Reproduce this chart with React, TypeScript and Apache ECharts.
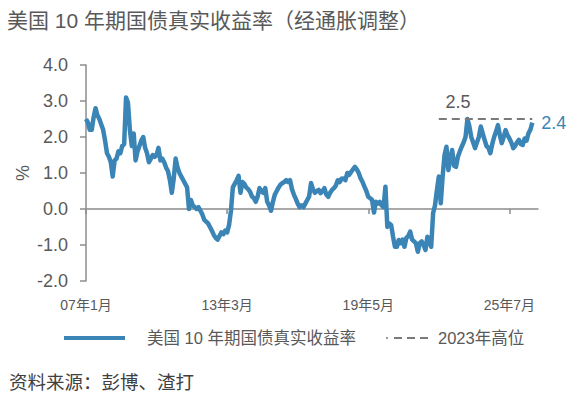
import React, { useEffect, useRef } from "react";
import * as echarts from "echarts";

const START_YEAR = 2007;
const MONTH_COUNT = 238;
const TICK_LABELS = ["07年1月", "13年3月", "19年5月", "25年7月"];
const Y_MIN = -2;
const Y_MAX = 4;
const Y_STEP = 1;

const TITLE = "美国 10 年期国债真实收益率（经通胀调整）";
const SERIES_NAME = "美国 10 年期国债真实收益率";
const HIGH_NAME = "2023年高位";
const SOURCE = "资料来源：彭博、渣打";
const Y_UNIT = "%";

const REAL_YIELD = [
  2.5, 2.4, 2.2, 2.2, 2.55, 2.8, 2.6, 2.5, 2.35, 2.2,
  1.9, 1.55, 1.45, 1.3, 0.9, 1.35, 1.4, 1.6, 1.55, 1.75,
  1.8, 3.1, 2.95, 2.2, 1.75, 2.1, 1.35, 1.6, 1.75, 1.9,
  2.0, 1.7, 1.55, 1.3, 1.4, 1.5, 1.45, 1.5, 1.7, 1.35,
  1.4, 1.3, 1.15, 1.05, 0.8, 0.45, 0.85, 1.4, 1.15, 1.0,
  0.9, 0.8, 0.7, 0.6, 0.0, 0.25, 0.1, 0.05, 0.0, 0.05,
  -0.05, -0.15, -0.3, -0.35, -0.4, -0.5, -0.6, -0.72, -0.8, -0.85,
  -0.75, -0.65, -0.7, -0.6, -0.65, -0.45, -0.05, 0.6, 0.7, 0.8,
  0.92, 0.45, 0.75, 0.7, 0.6, 0.55, 0.48, 0.35, 0.3, 0.2,
  0.35, 0.58, 0.5, 0.45, 0.58, 0.2, 0.1, -0.05, 0.2, 0.4,
  0.5, 0.6, 0.68, 0.72, 0.75, 0.8, 0.75, 0.8, 0.55, 0.4,
  0.28, 0.15, 0.05, 0.1, 0.05, 0.15, 0.25, 0.35, 0.72, 0.55,
  0.45, 0.5, 0.53, 0.44, 0.5, 0.58, 0.4, 0.34, 0.45, 0.53,
  0.58, 0.65, 0.8, 0.75, 0.84, 0.85, 0.8, 1.0, 0.95, 1.03,
  1.1, 1.17, 1.1, 1.0, 0.85, 0.75, 0.62, 0.5, 0.34, 0.3,
  0.25, -0.1, 0.2, 0.15, 0.2, 0.1, 0.05, 0.62, -0.5, -0.4,
  -0.45, -0.77, -1.05, -1.05, -0.86, -0.95, -0.85, -1.05, -0.8, -0.75,
  -0.63, -0.85, -0.9, -0.95, -1.19, -0.95, -0.9, -1.0, -1.14, -0.77,
  -0.9, -1.05, -0.12, 0.1, 0.53, 0.9, 0.16, 0.9, 1.5, 1.73,
  1.08, 1.4, 1.64, 1.2, 1.17, 1.45, 1.6, 1.73, 1.85, 2.0,
  2.5, 2.3, 2.0, 1.85, 1.69, 1.85, 2.0, 2.29, 2.1, 1.92,
  1.75, 1.7, 1.55, 1.8, 2.0, 2.15, 2.33, 2.05, 1.83, 2.0,
  2.19, 2.05, 1.96, 1.85, 1.69, 1.75, 1.85, 1.92, 1.8, 1.78,
  1.96, 1.9, 2.1, 2.2, 2.4,
];

const HIGH_2023 = 2.5;
const HIGH_START_INDEX = 185;
const HIGH_LABEL_INDEX = 195;
const LATEST_LABEL = "2.4";

const CATEGORIES = Array.from({ length: MONTH_COUNT }, (_, i) => {
  const yy = String((START_YEAR + Math.floor(i / 12)) % 100).padStart(2, "0");
  return `${yy}年${(i % 12) + 1}月`;
});

const FONT = '"Liberation Sans", Arial, "Noto Sans CJK SC", sans-serif';
const BLUE = "#3b84b6";
const GRAY_LINE = "#8c8c8c";
const DASH_GRAY = "#7a7a7a";
const TEXT_GRAY = "#595959";

export default function App() {
  const ref = useRef<HTMLDivElement>(null);

  useEffect(() => {
    if (!ref.current) return;
    const chart = echarts.init(ref.current, undefined, { renderer: "svg" });
    const showTick = (_idx: number, value: string) => TICK_LABELS.includes(value);
    const lastCat = CATEGORIES[REAL_YIELD.length - 1];

    chart.setOption({
      animation: false,
      textStyle: { fontFamily: FONT },
      grid: { left: 86, right: 48, top: 65, bottom: 135, containLabel: false },
      xAxis: [
        {
          type: "category",
          data: CATEGORIES,
          boundaryGap: false,
          position: "bottom",
          axisLine: { show: true, onZero: true, lineStyle: { color: GRAY_LINE, width: 1.5 } },
          axisTick: { show: true, interval: showTick, length: 5, lineStyle: { color: GRAY_LINE, width: 1.5 } },
          axisLabel: { show: false },
          splitLine: { show: false },
        },
        {
          type: "category",
          data: CATEGORIES,
          boundaryGap: false,
          position: "bottom",
          axisLine: { show: false, onZero: false },
          axisTick: { show: false },
          axisLabel: {
            show: true,
            interval: showTick,
            margin: 17,
            fontSize: 14,
            color: TEXT_GRAY,
            fontFamily: FONT,
          },
          splitLine: { show: false },
        },
      ],
      yAxis: {
        type: "value",
        min: Y_MIN,
        max: Y_MAX,
        interval: Y_STEP,
        axisLine: { show: true, lineStyle: { color: GRAY_LINE, width: 1.5 } },
        axisTick: { show: true, length: 6, lineStyle: { color: GRAY_LINE, width: 1.5 } },
        axisLabel: {
          margin: 18,
          fontSize: 18,
          color: TEXT_GRAY,
          fontFamily: FONT,
          formatter: (v: number) => v.toFixed(1),
        },
        splitLine: { show: false },
      },
      series: [
        {
          name: SERIES_NAME,
          type: "line",
          xAxisIndex: 0,
          data: REAL_YIELD,
          showSymbol: false,
          symbol: "none",
          lineStyle: { color: BLUE, width: 4.5, join: "round" },
          itemStyle: { color: BLUE },
          endLabel: {
            show: true,
            formatter: () => LATEST_LABEL,
            color: BLUE,
            fontSize: 18,
            distance: 9,
            fontFamily: FONT,
          },
          markLine: {
            silent: true,
            symbol: "none",
            label: { show: false },
            lineStyle: { color: DASH_GRAY, width: 2, type: [8, 5] },
            data: [
              [
                { coord: [CATEGORIES[HIGH_START_INDEX], HIGH_2023] },
                { coord: [lastCat, HIGH_2023] },
              ],
            ],
          },
          markPoint: {
            silent: true,
            symbol: "circle",
            symbolSize: 0,
            data: [
              {
                coord: [CATEGORIES[HIGH_LABEL_INDEX], HIGH_2023],
                label: {
                  show: true,
                  position: "top",
                  distance: 8,
                  formatter: () => HIGH_2023.toFixed(1),
                  color: TEXT_GRAY,
                  fontSize: 18,
                  fontFamily: FONT,
                },
              },
            ],
          },
        },
      ],
      graphic: [
        {
          type: "text",
          x: 7,
          y: 20,
          style: { text: TITLE, fontSize: 21, fill: TEXT_GRAY, verticalAlign: "middle", fontFamily: FONT },
        },
        {
          type: "text",
          x: 23,
          y: 173,
          rotation: Math.PI / 2,
          style: { text: Y_UNIT, fontSize: 18, fill: TEXT_GRAY, align: "center", verticalAlign: "middle", fontFamily: FONT },
        },
        {
          type: "line",
          shape: { x1: 64, y1: 338, x2: 125, y2: 338 },
          style: { stroke: BLUE, lineWidth: 4 },
        },
        {
          type: "text",
          x: 147,
          y: 338,
          style: { text: SERIES_NAME, fontSize: 16.5, fill: TEXT_GRAY, verticalAlign: "middle", fontFamily: FONT },
        },
        {
          type: "line",
          shape: { x1: 386, y1: 338, x2: 388, y2: 338 },
          style: { stroke: DASH_GRAY, lineWidth: 1.5 },
        },
        {
          type: "line",
          shape: { x1: 394, y1: 338, x2: 428, y2: 338 },
          style: { stroke: DASH_GRAY, lineWidth: 2, lineDash: [8, 5] },
        },
        {
          type: "text",
          x: 438,
          y: 338,
          style: { text: HIGH_NAME, fontSize: 16.5, fill: TEXT_GRAY, verticalAlign: "middle", fontFamily: FONT },
        },
        {
          type: "text",
          x: 9,
          y: 382,
          style: { text: SOURCE, fontSize: 18.5, fill: "#404040", verticalAlign: "middle", fontFamily: FONT },
        },
      ],
    });

    return () => chart.dispose();
  }, []);

  return (
    <div
      ref={ref}
      style={{ position: "fixed", left: 0, top: 0, width: 586, height: 416, background: "#fff" }}
    />
  );
}
